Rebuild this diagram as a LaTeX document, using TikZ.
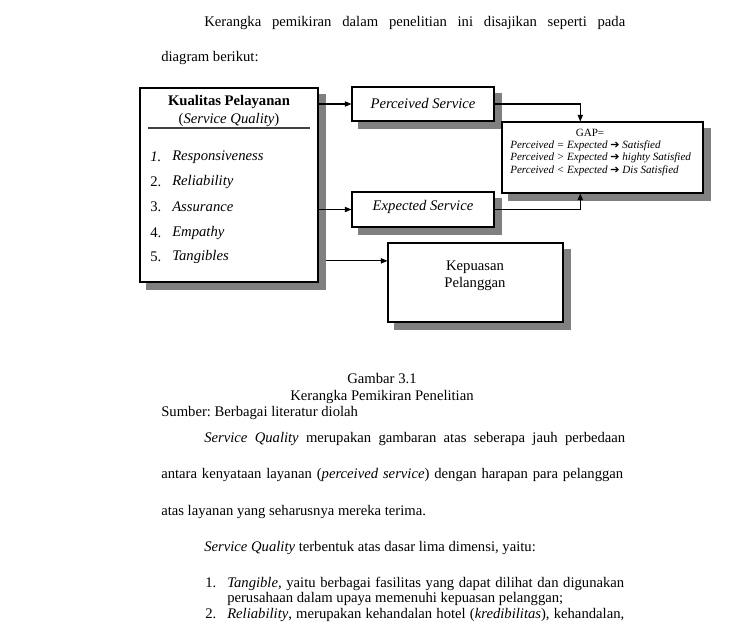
\documentclass[tikz,border=0pt]{standalone}
\usepackage{fontspec}
\setmainfont{Liberation Serif}
\newfontfamily\dejavu{DejaVu Sans}
\usetikzlibrary{fit,backgrounds,calc,arrows.meta}
\definecolor{shgray}{HTML}{808080}
\newcommand\gaparrow{{\dejavu\upshape ➔}}
\frenchspacing
\begin{document}
\begin{tikzpicture}[x=0.75pt,y=-0.75pt,
  font=\fontsize{11}{12.75}\selectfont,
  box/.style={draw=black, line width=0.8pt, fill=white, inner sep=0pt},
  conn/.style={line width=0.8pt, -{Triangle[length=5pt,width=4pt]}},
  lbl/.style={inner sep=0pt},
  gaptxt/.style={inner sep=0pt, anchor=west, font=\fontsize{8.3}{9.5}\selectfont\itshape},
]
\useasboundingbox (0,0) rectangle (729,630);

% text above
\node[lbl, anchor=base west] (t1) at (204,27) {\makebox[315.75pt][s]{Kerangka pemikiran dalam penelitian ini disajikan seperti pada}};
\node[lbl, anchor=base west] (t2) at (161,62) {diagram berikut:};

% boxes
\node[box, fit={(140,88) (318,282)}] (kp) {};
\node[box, fit={(352,87) (494,121)}] (perc) {};
\node[box, fit={(352,192) (494,227)}] (exp) {};
\node[box, fit={(502,122) (703,193)}] (gap) {};
\node[box, fit={(388,243) (563,322)}] (kep) {};

\begin{scope}[on background layer]
\fill[white] (0,0) rectangle (729,630);
\foreach \n in {kp,perc,exp,gap,kep}
  \fill[shgray] ($(\n.north west)+(7,7)$) rectangle ($(\n.south east)+(7,7)$);
\end{scope}

% KP content
\node[lbl, font=\fontsize{11}{12.75}\selectfont\bfseries] (kpt) at (229,102) {Kualitas Pelayanan};
\node[lbl] (kps) at (229,120) {(\textit{Service Quality})};
\draw[line width=1.3pt, black!75] (148,128) -- (310,128);
\node[lbl, anchor=west] (n1) at (150,157) {\textit{1.}};
\node[lbl, anchor=west] (i1) at (172,157) {\textit{Responsiveness}};
\node[lbl, anchor=west] (n2) at (150,182) {2.};
\node[lbl, anchor=west] (i2) at (172,182) {\textit{Reliability}};
\node[lbl, anchor=west] (n3) at (150,207) {3.};
\node[lbl, anchor=west] (i3) at (172,207) {\textit{Assurance}};
\node[lbl, anchor=west] (n4) at (150,233) {4.};
\node[lbl, anchor=west] (i4) at (172,233) {\textit{Empathy}};
\node[lbl, anchor=west] (n5) at (150,257) {5.};
\node[lbl, anchor=west] (i5) at (172,257) {\textit{Tangibles}};

% other box texts
\node[lbl] (perct) at (423,103) {\textit{Perceived Service}};
\node[lbl] (expt) at (423,207) {\textit{Expected Service}};
\node[lbl, align=center] (kept) at (475,276) {Kepuasan\\Pelanggan};
\node[lbl, font=\fontsize{8.3}{9.5}\selectfont] (gapt) at (590,133) {GAP=};
\node[gaptxt] (g1) at (510,146) {Perceived = Expected \gaparrow\ Satisfied};
\node[gaptxt] (g2) at (510,158) {Perceived > Expected \gaparrow\ highty Satisfied};
\node[gaptxt] (g3) at (510,171) {Perceived < Expected \gaparrow\ Dis Satisfied};

% connectors
\coordinate (kpsh) at ($(kp.east)+(7,0)$);
\coordinate (kepin) at ($(kep.north west)!0.23!(kep.south west)$);
\coordinate (gapin1) at ($(gap.north west)!0.39!(gap.north east)$);
\coordinate (gapin2) at ($(gap.south west)!0.39!(gap.south east)$);
\draw[conn] (kp.east |- perc.west) -- (perc.west);
\draw[conn] (kp.east |- exp.west) -- (exp.west);
\draw[conn] (kpsh |- kepin) -- (kepin);
\draw[conn] (perc.east) -| (gapin1);
\draw[conn] (exp.east) -| (gapin2);

% caption
\node[lbl, anchor=base] (cap1) at (382,384) {Gambar 3.1};
\node[lbl, anchor=base] (cap2) at (382,401) {Kerangka Pemikiran Penelitian};
\node[lbl, anchor=base west] (src) at (161,417) {Sumber: Berbagai literatur diolah};

% paragraph
\node[lbl, anchor=base west] (p1) at (204,443) {\makebox[315.75pt][s]{\textit{Service Quality} merupakan gambaran atas seberapa jauh perbedaan}};
\node[lbl, anchor=base west] (p2) at (161,479) {\makebox[346.5pt][s]{antara kenyataan layanan (\textit{perceived service}) dengan harapan para pelanggan}};
\node[lbl, anchor=base west] (p3) at (161,516) {atas layanan yang seharusnya mereka terima.};
\node[lbl, anchor=base west] (p4) at (204,552) {\textit{Service Quality} terbentuk atas dasar lima dimensi, yaitu:};
\node[lbl, anchor=base west] (l1n) at (205,588) {1.};
\node[lbl, anchor=base west] (l1a) at (227,588) {\makebox[297.75pt][s]{\textit{Tangible}, yaitu berbagai fasilitas yang dapat dilihat dan digunakan}};
\node[lbl, anchor=base west] (l1b) at (227,603) {perusahaan dalam upaya memenuhi kepuasan pelanggan;};
\node[lbl, anchor=base west] (l2n) at (205,619) {2.};
\node[lbl, anchor=base west] (l2a) at (227,619) {\makebox[297.75pt][s]{\textit{Reliability}, merupakan kehandalan hotel (\textit{kredibilitas}), kehandalan,}};
\end{tikzpicture}
\end{document}
